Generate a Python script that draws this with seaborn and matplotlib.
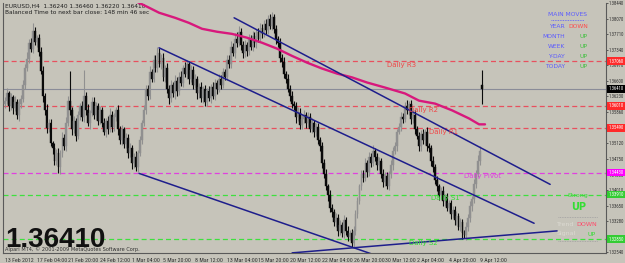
import numpy as np
import pandas as pd
import matplotlib
matplotlib.use("Agg")
import matplotlib.pyplot as plt
import matplotlib.transforms as mtrans
import seaborn as sns

# ---------------- data ----------------
closes = [
    1.3613, 1.3630, 1.3600, 1.3622, 1.3596, 1.3610, 1.3580, 1.3605, 1.3618,
    1.3649, 1.3690, 1.3712, 1.3750, 1.3735, 1.3778, 1.3752, 1.3762, 1.3728, 1.3684,
    1.3625, 1.3590, 1.3548, 1.3560, 1.3512, 1.3500, 1.3470, 1.3490, 1.3455,
    1.3490, 1.3525, 1.3505, 1.3560, 1.3613, 1.3590, 1.3545,
    1.3565, 1.3530, 1.3578, 1.3600, 1.3575, 1.3625,
    1.3590, 1.3560, 1.3585, 1.3610, 1.3580, 1.3600, 1.3565, 1.3590, 1.3560,
    1.3540, 1.3565, 1.3545, 1.3580, 1.3550, 1.3575, 1.3590, 1.3545, 1.3520, 1.3545,
    1.3510, 1.3525, 1.3490, 1.3500, 1.3465, 1.3480, 1.3455, 1.3490, 1.3520,
    1.3560, 1.3590, 1.3640, 1.3625, 1.3680, 1.3665, 1.3710, 1.3690, 1.3725, 1.3700,
    1.3715, 1.3670, 1.3690, 1.3640, 1.3620, 1.3650, 1.3630, 1.3660, 1.3635, 1.3670,
    1.3655, 1.3690, 1.3675, 1.3700, 1.3665, 1.3685, 1.3650, 1.3665, 1.3630, 1.3645,
    1.3620, 1.3640, 1.3610, 1.3635, 1.3620, 1.3645, 1.3625, 1.3655, 1.3640, 1.3665,
    1.3650, 1.3680, 1.3670, 1.3710, 1.3700, 1.3740, 1.3725, 1.3760, 1.3750, 1.3775,
    1.3745, 1.3725, 1.3745, 1.3730, 1.3760, 1.3740, 1.3765, 1.3750, 1.3775, 1.3760,
    1.3785, 1.3770, 1.3795, 1.3780, 1.3805, 1.3790, 1.3810, 1.3783,
    1.3759, 1.3750, 1.3715, 1.3705, 1.3675, 1.3665, 1.3640, 1.3625, 1.3605, 1.3600,
    1.3575, 1.3585, 1.3555, 1.3570, 1.3580, 1.3560, 1.3575, 1.3545, 1.3560, 1.3540,
    1.3550, 1.3520, 1.3505, 1.3465, 1.3440, 1.3410, 1.3390, 1.3360, 1.3350, 1.3325,
    1.3335, 1.3305, 1.3320, 1.3300, 1.3330, 1.3305, 1.3290, 1.3300, 1.3276,
    1.3305, 1.3345, 1.3375, 1.3410, 1.3440, 1.3430, 1.3465, 1.3445, 1.3480,
    1.3465, 1.3495, 1.3480, 1.3460, 1.3470, 1.3440, 1.3420, 1.3435, 1.3410, 1.3440,
    1.3460, 1.3495, 1.3505, 1.3540, 1.3550, 1.3575, 1.3570, 1.3600, 1.3590, 1.3605,
    1.3570, 1.3580, 1.3545, 1.3530, 1.3505, 1.3535, 1.3520, 1.3540, 1.3505, 1.3500,
    1.3470, 1.3455, 1.3425, 1.3410, 1.3390, 1.3400, 1.3375, 1.3385, 1.3360, 1.3370,
    1.3345, 1.3355, 1.3330, 1.3340, 1.3315, 1.3325, 1.3300, 1.3295,
    1.3315, 1.3335, 1.3365, 1.3380, 1.3415, 1.3440, 1.3470, 1.3495,
    1.3641,
]
wick_up = [
    8, 12, 6, 10, 5, 14, 7, 11, 9, 13, 10, 16, 8, 12, 18, 10, 6, 9, 13, 11,
    7, 14, 9, 10, 6, 12, 8, 11, 7, 13, 10, 15, 12, 70, 9, 12, 7, 10, 8, 13,
    60, 9, 14, 7, 11, 12, 9, 7, 10, 8, 12, 7, 11, 15, 9, 10, 7, 12, 8, 10,
    6, 11, 9, 12, 7, 9, 14, 7, 10, 8, 12, 10, 9, 15, 7, 12, 10, 16, 13, 9,
    10, 7, 12, 9, 11, 7, 14, 9, 10, 12, 8, 15, 10, 7, 12, 9, 11, 7, 9, 12,
    7, 10, 9, 12, 7, 11, 9, 7, 12, 9, 10, 9, 12, 10, 14, 9, 12, 15, 14, 10,
    9, 12, 7, 10, 9, 12, 11, 7, 9, 12, 10, 9, 12, 10, 14, 12, 9, 10, 7, 12,
    9, 11, 7, 12, 9, 10, 7, 9, 12, 10, 9, 12, 7, 11, 9, 12, 7, 10, 9, 7,
    10, 9, 12, 7, 11, 9, 7, 12, 9, 10, 7, 12, 9, 11, 7, 9, 12, 10, 9, 7,
    10, 9, 12, 7, 11, 9, 12, 7, 10, 9, 7, 12, 9, 10, 7, 12, 9, 10, 7, 9,
    12, 10, 9, 15, 7, 10, 9, 12, 7, 10, 9, 12, 7, 10, 9, 7, 12, 9, 10, 7,
    9, 12, 7, 10, 9, 7, 10, 9, 12, 7, 10, 9, 7, 12, 9, 10, 7, 12, 9, 14,
    10, 36,
]
wick_dn = [
    10, 7, 12, 9, 14, 7, 11, 15, 9, 7, 9, 7, 10, 6, 9, 7, 12, 10, 9, 14,
    10, 12, 9, 7, 14, 10, 9, 12, 15, 10, 9, 12, 7, 10, 14, 9, 12, 7, 10, 9,
    12, 10, 7, 14, 9, 10, 12, 9, 7, 10, 9, 12, 10, 7, 12, 9, 10, 14, 9, 12,
    10, 9, 12, 10, 14, 12, 9, 10, 7, 9, 7, 9, 10, 7, 9, 7, 10, 9, 7, 12,
    10, 12, 9, 14, 10, 9, 12, 10, 9, 7, 9, 7, 10, 12, 9, 10, 7, 12, 10, 9,
    12, 9, 10, 7, 12, 9, 10, 12, 7, 9, 7, 9, 7, 10, 9, 7, 10, 9, 7, 12,
    10, 9, 12, 10, 7, 9, 10, 12, 9, 7, 9, 7, 10, 9, 7, 9, 10, 12, 9, 10,
    12, 9, 10, 7, 12, 10, 9, 14, 10, 9, 10, 9, 12, 10, 7, 9, 12, 10, 9, 10,
    12, 10, 9, 14, 10, 12, 9, 10, 12, 9, 10, 12, 9, 10, 7, 10, 12, 9, 10, 7,
    9, 10, 7, 12, 9, 10, 7, 9, 12, 10, 9, 12, 10, 7, 9, 10, 12, 9, 10, 7,
    9, 10, 7, 9, 10, 12, 9, 10, 7, 12, 10, 9, 12, 10, 9, 12, 10, 9, 10, 12,
    9, 10, 12, 9, 10, 12, 9, 10, 12, 7, 10, 14, 8, 12, 10, 9, 12, 10, 9, 7,
    9, 35,
]
first_open = 1.3605
last_open = 1.3650
pip = 0.0001

x_tick_bars = [0, 16, 32, 48, 64, 80, 96, 112, 128, 144, 160, 176, 192, 208, 224, 240]
x_tick_labels = ["13 Feb 2012", "17 Feb 04:00", "21 Feb 20:00", "24 Feb 12:00",
                 "1 Mar 04:00", "5 Mar 20:00", "8 Mar 12:00", "13 Mar 04:00",
                 "15 Mar 20:00", "20 Mar 12:00", "22 Mar 04:00", "26 Mar 20:00",
                 "30 Mar 12:00", "2 Apr 04:00", "4 Apr 20:00", "9 Apr 12:00"]
y_ticks = [1.38440, 1.38070, 1.37710, 1.37340, 1.36970, 1.36600, 1.36230, 1.35860,
           1.35490, 1.35120, 1.34750, 1.34380, 1.34010, 1.33650, 1.33280, 1.32910,
           1.32540]

level_names = ["Daily R3", "Daily R2", "Daily R1", "Daily Pivot", "Daily S1", "Daily S2"]
level_values = [1.37060, 1.36010, 1.35490, 1.34430, 1.33910, 1.32850]
current_price = 1.36410

ma_bars = [65.7, 72.7, 77.8, 85.9, 92.9, 99.5, 107.1, 114.6, 122.2, 129.8, 137.4,
           144.9, 152.5, 160.1, 167.7, 175.3, 182.8, 191.9, 202.0, 209.1, 217.2,
           225.8, 234.3, 239.4, 242.4]
ma_values = [1.3849, 1.3833, 1.3821, 1.3809, 1.3797, 1.3783, 1.3776, 1.3771, 1.3762,
             1.3750, 1.3736, 1.3719, 1.3703, 1.3689, 1.3677, 1.3668, 1.3656, 1.3644,
             1.3630, 1.3613, 1.3606, 1.3590, 1.3571, 1.3557, 1.3557]

trend_x = [[115.7, 275.3], [77.8, 267.2], [67.7, 187.9], [145.0, 278.8]]
trend_y = [[1.3809, 1.3415], [1.3738, 1.3323], [1.3441, 1.3246], [1.3253, 1.3305]]

moves_labels = ["YEAR", "MONTH", "WEEK", "Y-DAY", "TODAY"]
moves_values = ["DOWN", "UP", "UP", "UP", "UP"]

# ---------------- style ----------------
BG = "#c6c4ba"
level_colors = ["#e8505e", "#e8505e", "#e8505e", "#e040e0", "#3ee03e", "#3ee03e"]
label_colors = ["#f04848", "#f04848", "#f04848", "#e040e0", "#33dd33", "#33dd33"]
box_colors = ["#ff2a2a", "#ff2a2a", "#ff2a2a", "#ff00ff", "#33cc33", "#33cc33"]

sns.set_style("white")
plt.rcParams["font.family"] = ["DejaVu Sans"]
NARROW = ["Liberation Sans Narrow", "Roboto Condensed", "Liberation Sans", "DejaVu Sans"]
AXFS = 3.4

fig = plt.figure(figsize=(6.25, 2.63), dpi=100, facecolor=BG)
ax = fig.add_axes([3 / 625, 10 / 263, 603 / 625, 250 / 263])
ax.set_facecolor(BG)

n = len(closes)
opens = [first_open] + closes[:-1]
opens[-1] = last_open
bars = np.arange(n)
highs = [max(o, c) + u * pip for o, c, u in zip(opens, closes, wick_up)]
lows = [min(o, c) - d * pip for o, c, d in zip(opens, closes, wick_dn)]
df = pd.DataFrame({"bar": bars, "open": opens, "close": closes, "high": highs, "low": lows})
df["up"] = df["close"] >= df["open"]
col = np.where(df["up"], "#909090", "#0a0a0a")

# level lines
for v, c in zip(level_values, level_colors):
    ax.axhline(v, color=c, lw=0.9, dashes=(4, 2.5), zorder=1)
ax.axhline(current_price, color="#8a8c98", lw=0.8, zorder=1)

# candles
ax.vlines(df["bar"], df["low"], df["high"], colors=col, lw=0.8, zorder=3)
ax.bar(df["bar"], (df["close"] - df["open"]).abs().clip(lower=0.00004),
       bottom=np.minimum(df["open"], df["close"]), width=0.9, color=col,
       edgecolor=col, linewidth=0.3, zorder=3)

# moving average and trend lines
sns.lineplot(x=ma_bars, y=ma_values, ax=ax, color="#d8187c", lw=1.7, zorder=4)
for tx, ty in zip(trend_x, trend_y):
    sns.lineplot(x=tx, y=ty, ax=ax, color="#1e1e8c", lw=1.1, zorder=4)

ax.set_xlim(-1, 303.5)
ax.set_ylim(1.32527, 1.38420)

# level text labels
level_label_bars = [193, 204, 214, 232, 215, 204]
for name, v, c, b in zip(level_names, level_values, label_colors, level_label_bars):
    ax.text(b, v - 0.0002, name, color=c, fontsize=5, va="top", ha="left", zorder=5)

# axis ticks
ax.yaxis.tick_right()
ax.set_yticks(y_ticks)
ax.set_yticklabels([f"{t:.5f}" for t in y_ticks], family=NARROW)
ax.tick_params(axis="y", labelsize=AXFS, colors="#303030", length=1.5, width=0.5, pad=0.3)
ax.set_xticks(x_tick_bars)
ax.set_xticklabels(x_tick_labels, family=NARROW)
for lab in ax.get_xticklabels():
    lab.set_ha("left")
ax.tick_params(axis="x", labelsize=4.2, colors="#303030", length=2, width=0.5, pad=1.5)
ax.set_xlabel("")
ax.set_ylabel("")

for s in ["right", "bottom", "left", "top"]:
    ax.spines[s].set_color("#5a5a5a")
    ax.spines[s].set_linewidth(0.8)
ax.spines["top"].set_visible(False)

# right side value boxes
tr = mtrans.blended_transform_factory(ax.transAxes, ax.transData)
for v, bc in zip(level_values, box_colors):
    ax.text(1.0035, v, f"{v:.5f}", transform=tr, fontsize=AXFS, color="white",
            family=NARROW, va="center", ha="left", zorder=6,
            bbox=dict(boxstyle="square,pad=0.3", fc=bc, ec="none"), clip_on=False)
ax.text(1.0035, current_price, f"{current_price:.5f}", transform=tr, fontsize=AXFS,
        color="white", family=NARROW, va="center", ha="left", zorder=6,
        bbox=dict(boxstyle="square,pad=0.3", fc="#000000", ec="none"), clip_on=False)

# top-left info
ax.text(0.003, 0.996, "EURUSD,H4  1.36240 1.36460 1.36220 1.36410", transform=ax.transAxes,
        fontsize=4.2, color="#202020", va="top", ha="left")
ax.text(0.003, 0.973, "Balanced Time to next bar close: 148 min 46 sec", transform=ax.transAxes,
        fontsize=4.2, color="#202020", va="top", ha="left")

# big price and copyright
ax.text(0.003, 0.025, f"{current_price:.5f}", transform=ax.transAxes, fontsize=20,
        fontweight="bold", family="Liberation Sans", color="#111111", va="baseline", ha="left",
        zorder=6)
ax.text(0.003, 0.004, "Alpari MT4, \u00a9 2001-2009 MetaQuotes Software Corp.",
        transform=ax.transAxes, fontsize=3.6, color="#303030", va="bottom", ha="left")

# main moves panel (top right)
fx = lambda px: (px - 3) / 603
fy = lambda py: (253 - py) / 250
ax.text(fx(567), fy(15), "MAIN MOVES", transform=ax.transAxes, fontsize=4.3,
        color="#5a5aff", ha="center", va="center")
ax.plot([fx(551), fx(584)], [fy(20), fy(20)], transform=ax.transAxes, color="#5a5aff",
        lw=0.6, ls=(0, (1, 1)))
for i, (lab, val) in enumerate(zip(moves_labels, moves_values)):
    yy = fy(27 + 10 * i)
    ax.text(fx(565), yy, lab, transform=ax.transAxes, fontsize=4.3, color="#5a5aff",
            ha="right", va="center")
    ax.text(fx(588), yy, val, transform=ax.transAxes, fontsize=4.3,
            color="#ff4a4a" if val == "DOWN" else "#3cc03c", ha="right", va="center")

# bottom-right panel
ax.text(fx(578), fy(195), "Strong", transform=ax.transAxes, fontsize=4.5, color="#33dd33",
        ha="center", va="center")
ax.text(fx(579), fy(207), "UP", transform=ax.transAxes, fontsize=7, fontweight="bold",
        color="#33dd33", ha="center", va="center")
ax.plot([fx(558), fx(598)], [fy(217), fy(217)], transform=ax.transAxes, color="#a0a0a0",
        lw=0.6, ls=(0, (1, 1)))
ax.text(fx(566), fy(224), "Trend", transform=ax.transAxes, fontsize=4.5, color="#dcdad2",
        ha="center", va="center")
ax.text(fx(597), fy(224), "DOWN", transform=ax.transAxes, fontsize=4.5, color="#ff4a6a",
        ha="right", va="center")
ax.text(fx(566), fy(234), "Signal", transform=ax.transAxes, fontsize=4.5, color="#dcdad2",
        ha="center", va="center")
ax.text(fx(596), fy(234), "UP", transform=ax.transAxes, fontsize=4.5, color="#33dd33",
        ha="right", va="center")
ax.plot([fx(558), fx(598)], [fy(241), fy(241)], transform=ax.transAxes, color="#a0a0a0",
        lw=0.6, ls=(0, (1, 1)))

fig.savefig("out.png", dpi=100, facecolor=BG)
